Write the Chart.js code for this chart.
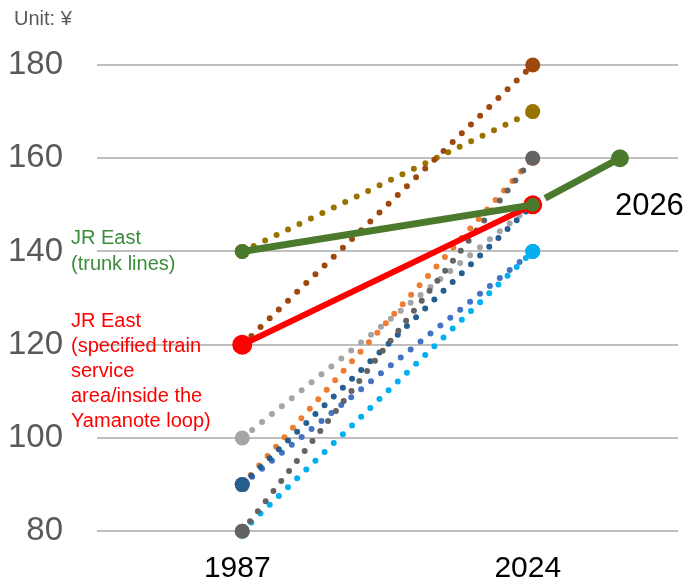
<!DOCTYPE html>
<html>
<head>
<meta charset="utf-8">
<script src="https://cdn.jsdelivr.net/npm/chart.js@4/dist/chart.umd.min.js"></script>
<style>
  html, body { margin: 0; padding: 0; background: #fff; }
  #wrap { width: 688px; height: 585px; }
</style>
</head>
<body>
<div id="wrap"><canvas id="fareChart" width="688" height="585"></canvas></div>
<script>
// categories on the x axis (2026 sits past the last tick, labelled next to its point)
const years = ['1987', '2024', '2026'];
const yearSlot = [0, 1, 1.3];
const yTicks = [80, 100, 120, 140, 160, 180];

// fares, yen
const jrTrunk = [140, 150, 160];
const jrSpecified = [120, 150];

// other operators, 1987 -> 2024 (dotted)
const brownVals = [120, 180];
const oliveVals = [140, 170];
const darkGrayVals = [80, 160];
const darkBlueVals = [90, 150];
const cyanVals = [80, 140];
const lightGrayVals = [100, 150];
const orangeVals = [90, 160];
const blueVals = [90, 140];

function pts(vals) {
    return vals.map((v, i) => ({ x: yearSlot[i], y: v }));
}

function dotted(vals, color) {
    return {
        data: pts(vals),
        borderColor: color,
        backgroundColor: color,
        borderWidth: 6,
        borderDash: [0, 12.7],
        borderCapStyle: 'round',
        pointRadius: 7.5,
        pointBorderWidth: 0,
        pointBackgroundColor: color,
        clip: false
    };
}

const green = '#4B7A2C';
const red = '#FF0000';

// text labels drawn on top of the plot
const labelPlugin = {
    id: 'labels',
    afterDatasetsDraw(chart) {
        const ctx = chart.ctx;
        const x = chart.scales.x, y = chart.scales.y;
        ctx.save();
        ctx.textBaseline = 'alphabetic';
        ctx.textAlign = 'left';

        ctx.fillStyle = '#595959';
        ctx.font = '20px "Liberation Sans", Arial, sans-serif';
        ctx.fillText('Unit: ¥', 14, 25);

        ctx.fillStyle = '#3C8C3C';
        const gy = y.getPixelForValue(jrTrunk[0]) - 7;
        ctx.fillText('JR East', 71, gy);
        ctx.fillText('(trunk lines)', 71, gy + 26);

        ctx.fillStyle = red;
        const ry = y.getPixelForValue(jrSpecified[0]) - 18;
        ['JR East', '(specified train', 'service', 'area/inside the', 'Yamanote loop)']
            .forEach((t, i) => ctx.fillText(t, 71, ry + i * 25));

        ctx.fillStyle = '#000';
        ctx.font = '31px "Liberation Sans", Arial, sans-serif';
        ctx.fillText(years[2], x.getPixelForValue(yearSlot[2]) - 5, y.getPixelForValue(jrTrunk[1]) + 10);
        ctx.restore();
    }
};

new Chart(document.getElementById('fareChart'), {
    type: 'line',
    data: {
        datasets: [
            {
                data: pts(jrTrunk),
                borderColor: green,
                backgroundColor: green,
                borderWidth: 7,
                pointRadius: [7.5, 7, 9],
                pointBorderWidth: 0,
                pointBackgroundColor: green,
                clip: false,
                segment: {
                    borderDash: c => c.p0DataIndex === 1 ? [0, 14, 300] : undefined
                }
            },
            {
                data: pts(jrSpecified),
                borderColor: red,
                backgroundColor: red,
                borderWidth: 6,
                pointRadius: [10, 9.5],
                pointBorderWidth: 0,
                pointBackgroundColor: red,
                clip: false
            },
            dotted(darkGrayVals, '#636363'),
            dotted(darkBlueVals, '#255E91'),
            dotted(cyanVals, '#00B0F0'),
            dotted(lightGrayVals, '#A5A5A5'),
            dotted(orangeVals, '#ED7D31'),
            dotted(blueVals, '#4472C4'),
            dotted(brownVals, '#9E480E'),
            dotted(oliveVals, '#997300')
        ]
    },
    options: {
        responsive: false,
        animation: false,
        devicePixelRatio: 1,
        layout: { padding: { top: 65, right: 8, bottom: 0, left: 0 } },
        plugins: { legend: { display: false }, tooltip: { enabled: false } },
        scales: {
            x: {
                type: 'linear',
                min: -0.5,
                max: 1.5,
                afterBuildTicks: s => { s.ticks = yearSlot.slice(0, 2).map(v => ({ value: v })); },
                afterFit: s => { s.height = 53; },
                grid: { display: false, drawTicks: false },
                border: { display: false },
                ticks: {
                    callback: (v, i) => years[i],
                    color: '#000',
                    font: { family: '"Liberation Sans", Arial, sans-serif', size: 30 },
                    padding: 20,
                    labelOffset: -5,
                    maxRotation: 0
                }
            },
            y: {
                min: yTicks[0],
                max: yTicks[yTicks.length - 1],
                afterBuildTicks: s => { s.ticks = yTicks.map(v => ({ value: v })); },
                afterFit: s => { s.width = 97; },
                grid: { color: '#BFBFBF', lineWidth: 2, drawTicks: false },
                border: { display: false },
                ticks: {
                    color: '#595959',
                    font: { family: '"Liberation Sans", Arial, sans-serif', size: 33 },
                    padding: 34
                }
            }
        }
    },
    plugins: [labelPlugin]
});
</script>
</body>
</html>
